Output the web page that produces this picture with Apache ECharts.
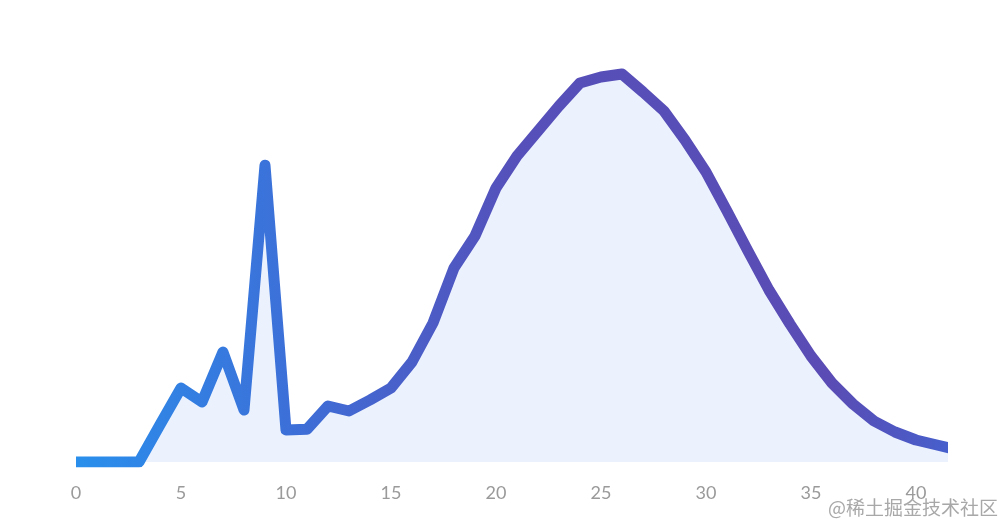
<!DOCTYPE html>
<html>
<head>
<meta charset="utf-8">
<script src="https://cdn.jsdelivr.net/npm/echarts@6/dist/echarts.min.js"></script>
<style>html,body{margin:0;padding:0;background:#fff;}#c{width:1000px;height:522px;}</style>
</head>
<body>
<div id="c"></div>
<script>
var xValues = [0,1,2,3,4,5,6,7,8,9,10,11,12,13,14,15,16,17,18,19,20,21,22,23,24,25,26,27,28,29,30,31,32,33,34,35,36,37,38,39,40,41,42];
var yValues = [0,0,0,0,9.3,18.5,15,27.5,13,74.2,8,8.2,14,12.75,15.5,18.5,25,34.75,48.5,56.5,68.5,76.5,82.75,89,94.75,96.25,97,92.5,87.75,80.5,72.5,62.75,52.75,43,34.5,26.5,19.75,14.5,10.25,7.5,5.5,4.25,3];
var xTicks = [0,5,10,15,20,25,30,35,40];

var data = xValues.map(function (x, i) { return [x, yValues[i]]; });
var chart = echarts.init(document.getElementById('c'), null, {renderer: 'canvas'});
chart.setOption({
  animation: false,
  grid: {left: 76, right: 58, top: 62, bottom: 60, containLabel: false},
  xAxis: {
    type: 'value', min: 0, max: 41.24, interval: 5,
    axisLine: {show: false}, axisTick: {show: false}, splitLine: {show: false},
    axisLabel: {
      color: '#9a9a9a', fontSize: 18, fontFamily: 'Lato', margin: 22,
      formatter: function (v) { return xTicks.indexOf(v) >= 0 ? String(v) : ''; }
    }
  },
  yAxis: {type: 'value', min: 0, max: 100, show: false},
  series: [{
    type: 'line',
    data: data,
    symbol: 'none',
    clip: true,
    lineStyle: {
      width: 11,
      join: 'round',
      cap: 'butt',
      color: new echarts.graphic.LinearGradient(0, 0, 1, 0, [
        {offset: 0, color: '#2990EC'},
        {offset: 0.25, color: '#3D6FD8'},
        {offset: 0.5, color: '#5650BA'},
        {offset: 0.85, color: '#5A4CB4'},
        {offset: 1, color: '#4462CF'}
      ])
    },
    areaStyle: {color: '#EBF2FE', opacity: 1}
  }],
  graphic: [{
    type: 'text', right: 2, top: 498,
    style: {text: '@稀土掘金技术社区', fill: '#a8a8a8', fontSize: 19, fontFamily: 'Noto Sans CJK SC'}
  }]
});
</script>
</body>
</html>
